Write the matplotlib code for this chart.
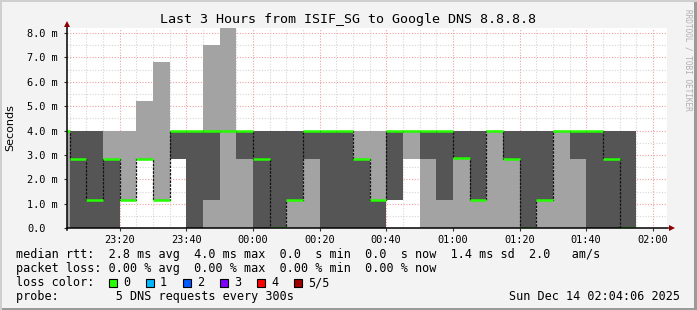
import numpy as np
import matplotlib
matplotlib.use("Agg")
import matplotlib.pyplot as plt
from matplotlib.patches import Rectangle
from matplotlib.lines import Line2D

# interval start times, minutes after 23:00 (5 min steps)
starts = [0, 5, 10, 15, 20, 25, 30, 35, 40, 45, 50, 55, 60, 65, 70, 75, 80, 85,
          90, 95, 100, 105, 110, 115, 120, 125, 130, 135, 140, 145, 150, 155, 160,
          165, 170]
# smoke, in ms: outer band (light) and inner band (dark)
outer_lo = [0, 0, 0, 0, 1.17, 2.83, 1.17, 2.83, 0, 0, 0, 0, 0, 0, 0, 0, 0, 0,
            0, 0, 1.17, 2.83, 0, 0, 0, 0, 0, 0, 0, 0, 0, 0, 0, 0, 0]
outer_hi = [4.0, 4.0, 4.0, 4.0, 4.0, 5.2, 6.82, 4.0, 4.0, 7.5, 8.2, 4.0, 4.0, 4.0, 4.0, 4.0, 4.0, 4.0,
            4.0, 4.0, 4.0, 4.0, 4.0, 4.0, 4.0, 4.0, 4.0, 4.0, 4.0, 4.0, 4.0, 4.0, 4.0, 4.0, 4.0]
inner_lo = [4.0, 0, 0, 0, 1.17, 2.83, 1.17, 2.83, 0, 1.17, 4.0, 2.83, 0, 0, 1.17, 2.83, 0, 0,
            0, 0, 1.17, 4.0, 2.83, 1.17, 2.9, 1.17, 4.0, 2.83, 0, 1.17, 4.0, 2.83, 0, 0, 0]
inner_hi = [4.0, 4.0, 4.0, 2.83, 1.17, 2.83, 1.17, 4.0, 4.0, 4.0, 4.0, 4.0, 4.0, 4.0, 4.0, 4.0, 4.0, 4.0,
            2.83, 1.17, 4.0, 4.0, 4.0, 4.0, 4.0, 4.0, 4.0, 4.0, 4.0, 4.0, 4.0, 4.0, 4.0, 4.0, 4.0]
median = [4.0, 2.83, 1.17, 2.83, 1.17, 2.83, 1.17, 4.0, 4.0, 4.0, 4.0, 4.0, 2.83, 0.03, 1.17, 4.0, 4.0, 4.0,
          2.83, 1.17, 4.0, 4.0, 4.0, 4.0, 2.9, 1.17, 4.0, 2.83, 0.03, 1.17, 4.0, 4.0, 4.0, 2.83, 0.03]

time_ticks = [20, 40, 60, 80, 100, 120, 140, 160, 180]
time_labels = ["23:20", "23:40", "00:00", "00:20", "00:40", "01:00", "01:20", "01:40", "02:00"]
y_ticks = [0, 1, 2, 3, 4, 5, 6, 7, 8]
y_labels = ["0.0", "1.0 m", "2.0 m", "3.0 m", "4.0 m", "5.0 m", "6.0 m", "7.0 m", "8.0 m"]

loss_names = ["0", "1", "2", "3", "4", "5/5"]
loss_colors = ["#26ff00", "#00b8ff", "#0059ff", "#7e00ff", "#ff0000", "#a10000"]

W, H = 697, 310
fig = plt.figure(figsize=(W / 100, H / 100), dpi=100, facecolor="#f3f3f3")
mono = "DejaVu Sans Mono"

# plot area in pixels
x0, x1, y0, y1 = 66.5, 666.5, 28.2, 228.3
ax = fig.add_axes([x0 / W, 1 - y1 / H, (x1 - x0) / W, (y1 - y0) / H])
ax.set_facecolor("white")
ax.set_xlim(4.1, 184.1)
ax.set_ylim(0, 8.2)

edges = np.array(starts + [starts[-1] + 5])
def ext(v):
    return np.array(v + [v[-1]])

ax.fill_between(edges, ext(outer_lo), ext(outer_hi), step="post", color="#a3a3a3", lw=0, zorder=2)
ax.fill_between(edges, ext(inner_lo), ext(inner_hi), step="post", color="#555555", lw=0, zorder=3)

# median: thin dark step connectors + green segments
ax.step(edges, ext(median), where="post", color="#111111", lw=0.9, ls=(0, (2, 1)), zorder=4)
ax.hlines(median, edges[:-1], edges[1:], color=loss_colors[0], lw=1.8, zorder=5)

# grid
for m in np.arange(5, 185, 5):
    major = m % 20 == 0
    ax.axvline(m, color="#f0a0a0" if major else "#d6d6d6", lw=0.8, ls=(0, (1, 1.5)), zorder=1 if not major else 1.5)
for v in np.arange(0.5, 8.21, 0.5):
    major = abs(v - round(v)) < 1e-6
    ax.axhline(v, color="#f0a0a0" if major else "#d6d6d6", lw=0.8, ls=(0, (1, 1.5)), zorder=1 if not major else 1.5)

for s in ax.spines.values():
    s.set_visible(False)

ax.set_xticks(time_ticks)
ax.set_xticklabels(time_labels, fontfamily=mono, fontsize=7.4)
ax.set_yticks(y_ticks)
ax.set_yticklabels(y_labels, fontfamily=mono, fontsize=7.4, ha="left")
ax.tick_params(axis="x", length=2, pad=3, color="#333333")
ax.tick_params(axis="y", length=2, pad=26.5, color="#333333")

# axis lines with arrows (pixel coords)
fig.add_artist(Line2D([x0 / W, 668 / W], [1 - y1 / H] * 2, color="black", lw=1.1))
fig.add_artist(Line2D([x0 / W] * 2, [1 - (y1 + 2) / H, 1 - 26 / H], color="black", lw=1.1))
fig.add_artist(Line2D([672 / W], [1 - y1 / H], marker=">", color="#900000", ms=5, mew=0))
fig.add_artist(Line2D([x0 / W], [1 - 24 / H], marker="^", color="#900000", ms=5, mew=0))

# texts
fig.text(348 / W, 1 - 19 / H, "Last 3 Hours from ISIF_SG to Google DNS 8.8.8.8",
         ha="center", va="center", fontfamily=mono, fontsize=9.6)
fig.text(10 / W, 1 - 128 / H, "Seconds", rotation=90, ha="center", va="center",
         fontfamily="DejaVu Sans", fontsize=8)
fig.text(688 / W, 1 - 60 / H, "RRDTOOL / TOBI OETIKER", rotation=270, ha="center", va="center",
         fontfamily=mono, fontsize=5.6, color="#b0b0b0")

lx = 16 / W
fig.text(lx, 1 - 254.5 / H, "median rtt:  2.8 ms avg  4.0 ms max  0.0  s min  0.0  s now  1.4 ms sd  2.0   am/s",
         va="center", fontfamily=mono, fontsize=8.5)
fig.text(lx, 1 - 268.5 / H, "packet loss: 0.00 % avg  0.00 % max  0.00 % min  0.00 % now",
         va="center", fontfamily=mono, fontsize=8.5)
fig.text(lx, 1 - 282.5 / H, "loss color:", va="center", fontfamily=mono, fontsize=8.5)
fig.text(lx, 1 - 296.5 / H, "probe:        5 DNS requests every 300s", va="center", fontfamily=mono, fontsize=8.5)
fig.text(680 / W, 1 - 296.5 / H, "Sun Dec 14 02:04:06 2025", ha="right", va="center", fontfamily=mono, fontsize=8.5)

for i, (name, col) in enumerate(zip(loss_names, loss_colors)):
    bx = 108.5 + i * 37
    fig.add_artist(Rectangle((bx / W, 1 - 287 / H), 8 / W, 8 / H, facecolor=col, edgecolor="black", lw=0.8))
    fig.text((bx + 14.5) / W, 1 - 282.5 / H, name, va="center", fontfamily=mono, fontsize=8.5)

# 3d frame
fig.add_artist(Rectangle((0, 0), 1, 2 / H, color="#9a9a9a", lw=0))
fig.add_artist(Rectangle((1 - 3 / W, 0), 3 / W, 1, color="#9a9a9a", lw=0))
fig.add_artist(Rectangle((0, 1 - 2 / H), 1, 2 / H, color="#cfcfcf", lw=0))
fig.add_artist(Rectangle((0, 0), 2 / W, 1, color="#cfcfcf", lw=0))

fig.savefig("out.png", dpi=100, facecolor=fig.get_facecolor())
